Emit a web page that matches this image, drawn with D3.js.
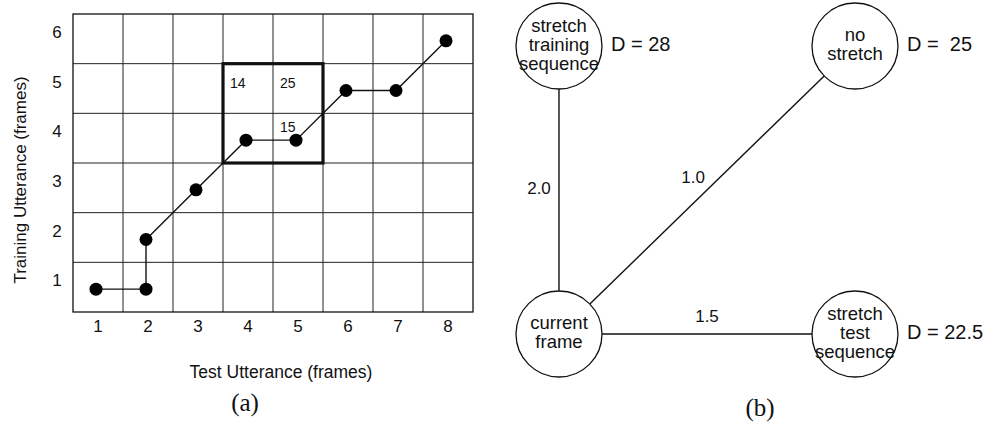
<!DOCTYPE html>
<html>
<head>
<meta charset="utf-8">
<script src="https://cdn.jsdelivr.net/npm/d3@7"></script>
<style>
  html, body { margin: 0; padding: 0; background: #fff; }
  svg { display: block; }
  text { font-family: "Liberation Sans", Arial, sans-serif; fill: #111; }
</style>
</head>
<body>
<div id="chart"></div>
<script>
// (a) grid of frames
const testFrames = [1, 2, 3, 4, 5, 6, 7, 8];
const trainFrames = [1, 2, 3, 4, 5, 6];
const pathTest = [1, 2, 2, 3, 4, 5, 6, 7, 8];
const pathTrain = [1, 1, 2, 3, 4, 4, 5, 5, 6];
const windowTest = [4, 5];
const windowTrain = [4, 5];
const costTest = [4, 5, 5];
const costTrain = [5, 5, 4];
const costValues = [14, 25, 15];

// (b) decision graph
const nodeLines = [["stretch", "training", "sequence"], ["no", "stretch"], ["current", "frame"], ["stretch", "test", "sequence"]];
const nodeCol = ["left", "right", "left", "right"];
const nodeRow = ["top", "top", "bottom", "bottom"];
const nodeDist = ["D = 28", "D =  25", "", "D = 22.5"];
const edgeFrom = [2, 2, 2];
const edgeTo = [0, 1, 3];
const edgeWeights = ["2.0", "1.0", "1.5"];

const width = 992, height = 425;
const svg = d3.select("#chart").append("svg")
  .attr("width", width)
  .attr("height", height);

// ---------- panel (a) ----------
const x = d3.scaleBand().domain(testFrames).range([73, 473]);
const y = d3.scaleBand().domain(trainFrames).range([312, 14]);

const grid = svg.append("g");
grid.selectAll(".vline")
  .data(testFrames.slice(1))
  .join("line")
  .attr("x1", d => x(d)).attr("x2", d => x(d))
  .attr("y1", y.range()[1]).attr("y2", y.range()[0])
  .attr("stroke", "#222").attr("stroke-width", 1);
grid.selectAll(".hline")
  .data(trainFrames.slice(1))
  .join("line")
  .attr("x1", x.range()[0]).attr("x2", x.range()[1])
  .attr("y1", d => y(d) + y.bandwidth()).attr("y2", d => y(d) + y.bandwidth())
  .attr("stroke", "#222").attr("stroke-width", 1);
grid.append("rect")
  .attr("x", x.range()[0]).attr("y", y.range()[1])
  .attr("width", x.range()[1] - x.range()[0])
  .attr("height", y.range()[0] - y.range()[1])
  .attr("fill", "none").attr("stroke", "#111").attr("stroke-width", 1.3);

// tick labels
svg.append("g").selectAll("text")
  .data(testFrames)
  .join("text")
  .attr("x", d => x(d) + x.bandwidth() / 2)
  .attr("y", 332)
  .attr("text-anchor", "middle")
  .attr("font-size", 17)
  .text(d => d);
svg.append("g").selectAll("text")
  .data(trainFrames)
  .join("text")
  .attr("x", 57)
  .attr("y", d => y(d) + y.bandwidth() / 2 - 1)
  .attr("text-anchor", "middle")
  .attr("font-size", 17)
  .text(d => d);

svg.append("text")
  .attr("x", 281).attr("y", 378)
  .attr("text-anchor", "middle")
  .attr("font-size", 17.5)
  .text("Test Utterance (frames)");
svg.append("text")
  .attr("transform", "translate(26,180) rotate(-90)")
  .attr("text-anchor", "middle")
  .attr("font-size", 17)
  .text("Training Utterance (frames)");

// bold window
svg.append("rect")
  .attr("x", x(windowTest[0]))
  .attr("y", y(windowTrain[1]))
  .attr("width", x(windowTest[1]) + x.bandwidth() - x(windowTest[0]))
  .attr("height", y(windowTrain[0]) + y.bandwidth() - y(windowTrain[1]))
  .attr("fill", "none").attr("stroke", "#111").attr("stroke-width", 3.2);

// cost values
svg.append("g").selectAll("text")
  .data(costValues)
  .join("text")
  .attr("x", (d, i) => x(costTest[i]) + 7)
  .attr("y", (d, i) => y(costTrain[i]) + (i === 2 ? 19 : 24))
  .attr("font-size", 14)
  .text(d => d);

// warping path
const pts = pathTest.map((t, i) => [x(t) + x.bandwidth() / 2 - 2, y(pathTrain[i]) + y.bandwidth() / 2 + 2]);
svg.append("path")
  .attr("d", d3.line()(pts))
  .attr("fill", "none").attr("stroke", "#111").attr("stroke-width", 1.4);
svg.append("g").selectAll("circle")
  .data(pts)
  .join("circle")
  .attr("cx", d => d[0]).attr("cy", d => d[1])
  .attr("r", 6.5)
  .attr("fill", "#000");

svg.append("text")
  .attr("x", 245).attr("y", 411)
  .attr("text-anchor", "middle")
  .style("font-family", "'Liberation Serif', 'Times New Roman', serif")
  .attr("font-size", 25)
  .text("(a)");

// ---------- panel (b) ----------
const nx = d3.scalePoint().domain(["left", "right"]).range([559, 855]);
const ny = d3.scalePoint().domain(["top", "bottom"]).range([46, 334]);
const r = 43;
const nodes = nodeLines.map((lines, i) => ({ lines, cx: nx(nodeCol[i]), cy: ny(nodeRow[i]), dist: nodeDist[i] }));

edgeFrom.forEach((f, i) => {
  const a = nodes[f], b = nodes[edgeTo[i]];
  const dx = b.cx - a.cx, dy = b.cy - a.cy;
  const len = Math.hypot(dx, dy);
  const ux = dx / len, uy = dy / len;
  svg.append("line")
    .attr("x1", a.cx + ux * r).attr("y1", a.cy + uy * r)
    .attr("x2", b.cx - ux * r).attr("y2", b.cy - uy * r)
    .attr("stroke", "#111").attr("stroke-width", 1.4);
  // label on the upper-left side of the edge
  let nxv = uy, nyv = -ux;
  if (nxv > 0 || nyv > 0) { nxv = -nxv; nyv = -nyv; }
  const mx = (a.cx + b.cx) / 2, my = (a.cy + b.cy) / 2;
  svg.append("text")
    .attr("x", mx + nxv * 20)
    .attr("y", my + nyv * 16)
    .attr("text-anchor", "middle")
    .attr("dominant-baseline", "middle")
    .attr("font-size", 17)
    .text(edgeWeights[i]);
});

const ng = svg.append("g").selectAll("g")
  .data(nodes)
  .join("g")
  .attr("transform", d => `translate(${d.cx},${d.cy})`);
ng.append("circle")
  .attr("r", r)
  .attr("fill", "#fff").attr("stroke", "#111").attr("stroke-width", 1.3);
ng.each(function (d) {
  const g = d3.select(this);
  const lh = 19;
  const n = d.lines.length;
  d.lines.forEach((s, j) => {
    g.append("text")
      .attr("x", 0)
      .attr("y", (j - (n - 1) / 2) * lh)
      .attr("text-anchor", "middle")
      .attr("dominant-baseline", "middle")
      .attr("font-size", 18.5)
      .text(s);
  });
  if (d.dist) {
    g.append("text")
      .attr("x", r + 9)
      .attr("y", 0)
      .attr("dominant-baseline", "middle")
      .attr("font-size", 20)
      .style("white-space", "pre")
      .text(d.dist);
  }
});

svg.append("text")
  .attr("x", 760).attr("y", 416)
  .attr("text-anchor", "middle")
  .style("font-family", "'Liberation Serif', 'Times New Roman', serif")
  .attr("font-size", 25)
  .text("(b)");
</script>
</body>
</html>
